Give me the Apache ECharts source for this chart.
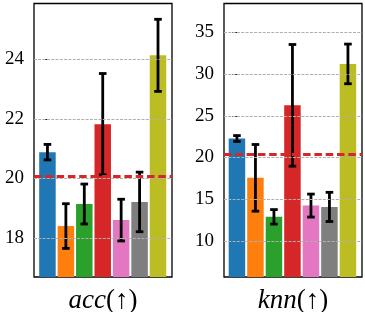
<!DOCTYPE html>
<html>
<head>
<meta charset="utf-8">
<script src="https://cdn.jsdelivr.net/npm/echarts@6/dist/echarts.min.js"></script>
<style>html,body{margin:0;padding:0;background:#fff;}#c{width:365px;height:312px;}</style>
</head>
<body>
<div id="c"></div>
<script>
// ---- data ----
const methods = ['m1', 'm2', 'm3', 'm4', 'm5', 'm6', 'm7'];
const colors = ['#1f77b4', '#ff7f0e', '#2ca02c', '#d62728', '#e377c2', '#7f7f7f', '#bcbd22'];
const accMean = [20.88, 18.40, 19.14, 21.82, 18.60, 19.21, 24.13];
const accErr  = [0.26, 0.75, 0.67, 1.70, 0.70, 1.00, 1.21];
const accRef = 20.08;
const accTicks = [18, 20, 22, 24];
const knnMean = [22.27, 17.55, 12.87, 26.25, 14.22, 14.06, 31.22];
const knnErr  = [0.35, 4.00, 0.87, 7.30, 1.38, 1.75, 2.38];
const knnRef = 20.36;
const knnTicks = [10, 15, 20, 25, 30, 35];

const FONT = '"Liberation Serif", "DejaVu Serif", serif';

function barData(mean) {
  return mean.map((v, i) => ({ value: [i, v], itemStyle: { color: colors[i] } }));
}
function errData(mean, err) {
  return mean.map((v, i) => [i, v - err[i], v + err[i]]);
}
function errRender(params, api) {
  const x = api.value(0);
  const lo = api.coord([x, api.value(1)]);
  const hi = api.coord([x, api.value(2)]);
  const cw = 3.8;
  const st = { stroke: '#000', lineWidth: 2.8 };
  return {
    type: 'group',
    children: [
      { type: 'line', shape: { x1: hi[0], y1: hi[1], x2: lo[0], y2: lo[1] }, style: st },
      { type: 'line', shape: { x1: hi[0] - cw, y1: hi[1], x2: hi[0] + cw, y2: hi[1] }, style: st },
      { type: 'line', shape: { x1: lo[0] - cw, y1: lo[1], x2: lo[0] + cw, y2: lo[1] }, style: st }
    ]
  };
}
function yAxis(idx, min, max, ticks) {
  return {
    type: 'value', gridIndex: idx, min: min, max: max,
    axisLine: { show: false },
    axisTick: { show: true, length: 4.5, lineStyle: { color: '#000', width: 1 }, customValues: ticks },
    axisLabel: { color: '#000', fontFamily: FONT, fontSize: 19, margin: 10, customValues: ticks },
    splitLine: { show: false }
  };
}
function xAxis(idx, min, max, label) {
  return {
    type: 'value', gridIndex: idx, min: min, max: max,
    axisLine: { show: false }, axisTick: { show: false }, axisLabel: { show: false },
    splitLine: { show: false },
    name: '{i|' + label + '}{n|(↑)}', nameLocation: 'middle', nameGap: 10,
    nameTextStyle: {
      rich: {
        i: { fontFamily: FONT, fontStyle: 'italic', fontSize: 27, color: '#000' },
        n: { fontFamily: FONT, fontSize: 27, color: '#000' }
      }
    }
  };
}
function gridLines(ticks) {
  return {
    silent: true, symbol: 'none', label: { show: false },
    lineStyle: { color: '#b0b0b0', width: 1, type: [3, 1.3] },
    data: ticks.map(t => ({ yAxis: t }))
  };
}
function refLine(v) {
  return {
    silent: true, symbol: 'none', label: { show: false },
    lineStyle: { color: '#d62728', width: 3, type: [7.5, 3.8] },
    data: [{ yAxis: v }]
  };
}

const chart = echarts.init(document.getElementById('c'), null, { renderer: 'canvas' });
chart.setOption({
  animation: false,
  backgroundColor: '#fff',
  grid: [
    { left: 34, top: 3.5, width: 138, height: 273.5, outerBoundsMode: 'none', containLabel: false, show: true, borderColor: '#000', borderWidth: 1.3, backgroundColor: 'transparent' },
    { left: 224, top: 3.5, width: 138, height: 273.5, outerBoundsMode: 'none', containLabel: false, show: true, borderColor: '#000', borderWidth: 1.3, backgroundColor: 'transparent' }
  ],
  xAxis: [xAxis(0, -0.73, 6.76, 'acc'), xAxis(1, -0.70, 6.76, 'knn')],
  yAxis: [yAxis(0, 16.69, 25.87, accTicks), yAxis(1, 5.65, 38.47, knnTicks)],
  series: [
    { type: 'line', xAxisIndex: 0, yAxisIndex: 0, data: [], z: 1, markLine: gridLines(accTicks) },
    { type: 'line', xAxisIndex: 1, yAxisIndex: 1, data: [], z: 1, markLine: gridLines(knnTicks) },
    { type: 'bar', xAxisIndex: 0, yAxisIndex: 0, barWidth: 16.5, data: barData(accMean), z: 2, silent: true },
    { type: 'bar', xAxisIndex: 1, yAxisIndex: 1, barWidth: 16.5, data: barData(knnMean), z: 2, silent: true },
    { type: 'custom', xAxisIndex: 0, yAxisIndex: 0, renderItem: errRender, data: errData(accMean, accErr), z: 3, silent: true },
    { type: 'custom', xAxisIndex: 1, yAxisIndex: 1, renderItem: errRender, data: errData(knnMean, knnErr), z: 3, silent: true },
    { type: 'line', xAxisIndex: 0, yAxisIndex: 0, data: [], z: 4, markLine: refLine(accRef) },
    { type: 'line', xAxisIndex: 1, yAxisIndex: 1, data: [], z: 4, markLine: refLine(knnRef) }
  ]
});
</script>
</body>
</html>
